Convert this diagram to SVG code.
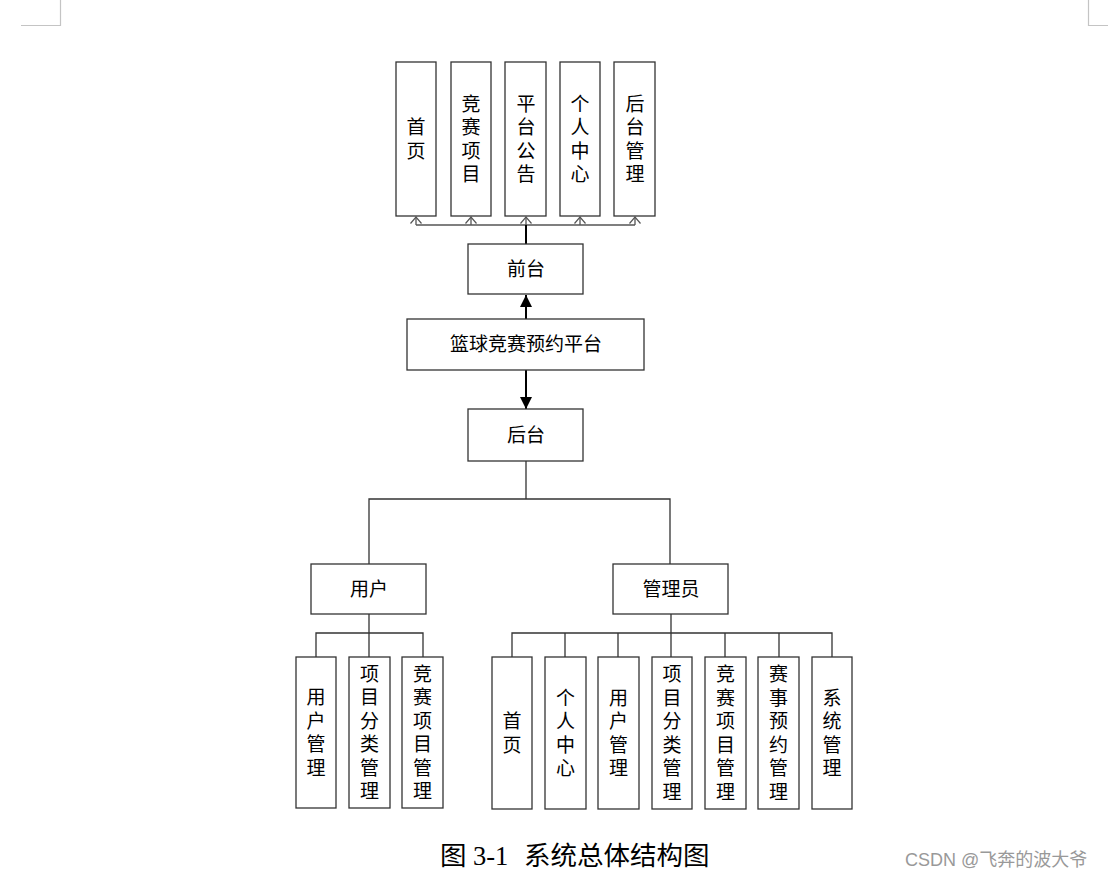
<svg xmlns="http://www.w3.org/2000/svg" width="1108" height="878" viewBox="0 0 1108 878">
<style>
.box{fill:#fff;stroke:#333;stroke-width:1.3}
.t{font-family:"Liberation Serif","Noto Sans CJK SC",serif;font-size:19px;fill:#000;text-anchor:middle;dominant-baseline:central}
.ln{fill:none;stroke:#333;stroke-width:1.3}
.thin{fill:none;stroke:#555;stroke-width:1.3}
.bold{fill:none;stroke:#000;stroke-width:2}
.corner{fill:none;stroke:#c4c4c4;stroke-width:1.2}
</style>
<defs>
<marker id="open" viewBox="0 0 7 12" refX="7" refY="6" markerWidth="7" markerHeight="12" orient="auto" markerUnits="userSpaceOnUse">
<path d="M0,0.5 L6.5,6 L0,11.5" fill="none" stroke="#555" stroke-width="1.2"/>
</marker>
<marker id="fill" viewBox="0 0 10 10" refX="10" refY="5" markerWidth="12" markerHeight="12" orient="auto" markerUnits="userSpaceOnUse">
<path d="M0,0 L10,5 L0,10 Z" fill="#000"/>
</marker>
</defs>
<g id="corners">
<path class="corner" d="M60.5,0 V25.5 H21"/>
<path class="corner" d="M1088.5,0 V25.5 H1108"/>
</g>
<g id="connectors">
<path class="thin" d="M416,225 H635"/>
<path class="thin" d="M416,225 V216.5" marker-end="url(#open)"/>
<path class="thin" d="M471,225 V216.5" marker-end="url(#open)"/>
<path class="thin" d="M526,225 V216.5" marker-end="url(#open)"/>
<path class="thin" d="M580,225 V216.5" marker-end="url(#open)"/>
<path class="thin" d="M635,225 V216.5" marker-end="url(#open)"/>
<path class="bold" d="M526,244 V225"/>
<path class="bold" d="M526,319 V295" marker-end="url(#fill)"/>
<path class="bold" d="M526,370 V409" marker-end="url(#fill)"/>
<path class="ln" d="M526,461 V499 M369,564 V499 H670 V564"/>
<path class="ln" d="M369,614 V657 M316,657 V633 H423 V657"/>
<path class="ln" d="M671,614 V657 M512,657 V633 H832 V657 M565,633 V657 M618,633 V657 M725,633 V657 M779,633 V657"/>
</g>
<g id="n-home"><rect class="box" x="396" y="62" width="40" height="154"/><text class="t"><tspan x="416" y="127.25">首</tspan><tspan x="416" y="150.75">页</tspan></text></g>
<g id="n-items"><rect class="box" x="451" y="62" width="40" height="154"/><text class="t"><tspan x="471" y="103.75">竞</tspan><tspan x="471" y="127.25">赛</tspan><tspan x="471" y="150.75">项</tspan><tspan x="471" y="174.25">目</tspan></text></g>
<g id="n-notice"><rect class="box" x="505" y="62" width="41" height="154"/><text class="t"><tspan x="526" y="103.75">平</tspan><tspan x="526" y="127.25">台</tspan><tspan x="526" y="150.75">公</tspan><tspan x="526" y="174.25">告</tspan></text></g>
<g id="n-personal"><rect class="box" x="560" y="62" width="40" height="154"/><text class="t"><tspan x="580" y="103.75">个</tspan><tspan x="580" y="127.25">人</tspan><tspan x="580" y="150.75">中</tspan><tspan x="580" y="174.25">心</tspan></text></g>
<g id="n-admin"><rect class="box" x="614" y="62" width="41" height="154"/><text class="t"><tspan x="635" y="103.75">后</tspan><tspan x="635" y="127.25">台</tspan><tspan x="635" y="150.75">管</tspan><tspan x="635" y="174.25">理</tspan></text></g>
<g id="n-front"><rect class="box" x="468" y="244" width="115" height="50"/><text class="t" x="526" y="269">前台</text></g>
<g id="n-platform"><rect class="box" x="407" y="319" width="237" height="51"/><text class="t" x="526" y="344.5">篮球竞赛预约平台</text></g>
<g id="n-back"><rect class="box" x="468" y="409" width="115" height="52"/><text class="t" x="526" y="435">后台</text></g>
<g id="n-user"><rect class="box" x="311" y="564" width="115" height="50"/><text class="t" x="369" y="589">用户</text></g>
<g id="n-manager"><rect class="box" x="613" y="564" width="115" height="50"/><text class="t" x="671" y="589">管理员</text></g>
<g id="u-usermgr"><rect class="box" x="296" y="657" width="40" height="151"/><text class="t"><tspan x="316" y="697.25">用</tspan><tspan x="316" y="720.75">户</tspan><tspan x="316" y="744.25">管</tspan><tspan x="316" y="767.75">理</tspan></text></g>
<g id="u-catmgr"><rect class="box" x="349" y="657" width="41" height="151"/><text class="t"><tspan x="369.5" y="673.75">项</tspan><tspan x="369.5" y="697.25">目</tspan><tspan x="369.5" y="720.75">分</tspan><tspan x="369.5" y="744.25">类</tspan><tspan x="369.5" y="767.75">管</tspan><tspan x="369.5" y="791.25">理</tspan></text></g>
<g id="u-itemmgr"><rect class="box" x="402" y="657" width="41" height="151"/><text class="t"><tspan x="422.5" y="673.75">竞</tspan><tspan x="422.5" y="697.25">赛</tspan><tspan x="422.5" y="720.75">项</tspan><tspan x="422.5" y="744.25">目</tspan><tspan x="422.5" y="767.75">管</tspan><tspan x="422.5" y="791.25">理</tspan></text></g>
<g id="a-home"><rect class="box" x="492" y="657" width="40" height="152"/><text class="t"><tspan x="512" y="721.25">首</tspan><tspan x="512" y="744.75">页</tspan></text></g>
<g id="a-personal"><rect class="box" x="545" y="657" width="41" height="152"/><text class="t"><tspan x="565.5" y="697.75">个</tspan><tspan x="565.5" y="721.25">人</tspan><tspan x="565.5" y="744.75">中</tspan><tspan x="565.5" y="768.25">心</tspan></text></g>
<g id="a-usermgr"><rect class="box" x="598" y="657" width="41" height="152"/><text class="t"><tspan x="618.5" y="697.75">用</tspan><tspan x="618.5" y="721.25">户</tspan><tspan x="618.5" y="744.75">管</tspan><tspan x="618.5" y="768.25">理</tspan></text></g>
<g id="a-catmgr"><rect class="box" x="652" y="657" width="40" height="152"/><text class="t"><tspan x="672" y="674.25">项</tspan><tspan x="672" y="697.75">目</tspan><tspan x="672" y="721.25">分</tspan><tspan x="672" y="744.75">类</tspan><tspan x="672" y="768.25">管</tspan><tspan x="672" y="791.75">理</tspan></text></g>
<g id="a-itemmgr"><rect class="box" x="705" y="657" width="41" height="152"/><text class="t"><tspan x="725.5" y="674.25">竞</tspan><tspan x="725.5" y="697.75">赛</tspan><tspan x="725.5" y="721.25">项</tspan><tspan x="725.5" y="744.75">目</tspan><tspan x="725.5" y="768.25">管</tspan><tspan x="725.5" y="791.75">理</tspan></text></g>
<g id="a-bookmgr"><rect class="box" x="758" y="657" width="41" height="152"/><text class="t"><tspan x="778.5" y="674.25">赛</tspan><tspan x="778.5" y="697.75">事</tspan><tspan x="778.5" y="721.25">预</tspan><tspan x="778.5" y="744.75">约</tspan><tspan x="778.5" y="768.25">管</tspan><tspan x="778.5" y="791.75">理</tspan></text></g>
<g id="a-sysmgr"><rect class="box" x="812" y="657" width="40" height="152"/><text class="t"><tspan x="832" y="697.75">系</tspan><tspan x="832" y="721.25">统</tspan><tspan x="832" y="744.75">管</tspan><tspan x="832" y="768.25">理</tspan></text></g>
<g id="caption">
<text style="font-family:'Liberation Serif','Noto Sans CJK SC',serif;font-size:26.5px;fill:#000" y="865"><tspan x="440">图</tspan><tspan x="473">3-1</tspan><tspan x="524">系统总体结构图</tspan></text>
<text style="font-family:'Liberation Sans','Noto Sans CJK SC',sans-serif;font-size:18px;fill:#999" x="905" y="866">CSDN @飞奔的波大爷</text>
</g>
</svg>
